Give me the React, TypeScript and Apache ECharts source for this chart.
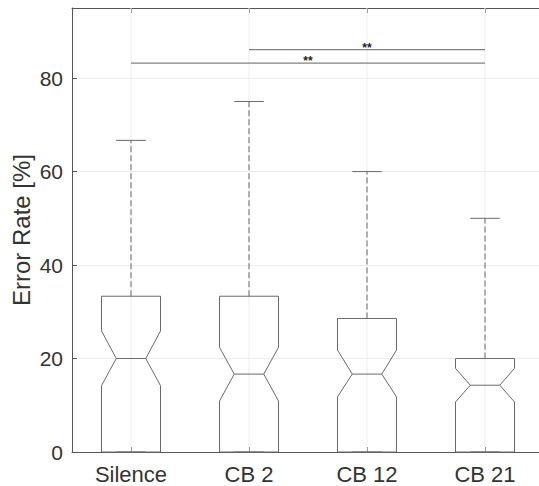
import React, { useEffect, useRef } from "react";
import * as echarts from "echarts";

const categories = ["Silence", "CB 2", "CB 12", "CB 21"];
const whiskerLow = [0, 0, 0, 0];
const q1 = [0, 0, 0, 0];
const notchLow = [14.2, 10.9, 11.8, 10.7];
const medians = [20, 16.67, 16.67, 14.29];
const notchHigh = [25.9, 22.4, 21.8, 17.9];
const q3 = [33.33, 33.33, 28.57, 20];
const whiskerHigh = [66.67, 75, 60, 50];

const sigFrom = [1, 0];
const sigTo = [3, 3];
const sigLevel = [86.1, 83.2];
const sigLabels = ["**", "**"];

const yTicks = [0, 20, 40, 60, 80];

const BOX = "#6a6a6a";
const GRID = "#ebebeb";
const AXIS = "#555555";
const TEXT = "#333333";

export default function App() {
  const ref = useRef<HTMLDivElement>(null);
  useEffect(() => {
    if (!ref.current) return;
    const chart = echarts.init(ref.current, null, { renderer: "svg" });
    const boxData = categories.map((_, i) => [
      i,
      whiskerLow[i],
      q1[i],
      notchLow[i],
      medians[i],
      notchHigh[i],
      q3[i],
      whiskerHigh[i],
    ]);
    const sigData = sigFrom.map((f, i) => [f, sigTo[i], sigLevel[i]]);

    const renderBox = (params: any, api: any) => {
      const idx = api.value(0);
      const band = api.size([1, 0])[0];
      const hw = band * 0.25;
      const nw = band * 0.125;
      const cw = band * 0.125;
      const cs = params.coordSys;
      const c = (v: number) => api.coord([idx, v]);
      const x = c(0)[0];
      const yWL = c(api.value(1))[1];
      const yQ1 = c(api.value(2))[1];
      const yNL = c(api.value(3))[1];
      const yMed = c(api.value(4))[1];
      const yNH = c(api.value(5))[1];
      const yQ3 = c(api.value(6))[1];
      const yWH = c(api.value(7))[1];
      const lineStyle = { stroke: BOX, lineWidth: 1, fill: "none" };
      return {
        type: "group",
        children: [
          {
            type: "line",
            shape: { x1: x, y1: cs.y, x2: x, y2: cs.y + cs.height },
            style: { stroke: GRID, lineWidth: 1 },
            z2: 0,
          },
          {
            type: "polygon",
            shape: {
              points: [
                [x - hw, yQ1],
                [x - hw, yNL],
                [x - nw, yMed],
                [x - hw, yNH],
                [x - hw, yQ3],
                [x + hw, yQ3],
                [x + hw, yNH],
                [x + nw, yMed],
                [x + hw, yNL],
                [x + hw, yQ1],
              ],
            },
            style: lineStyle,
            z2: 2,
          },
          {
            type: "line",
            shape: { x1: x - nw, y1: yMed, x2: x + nw, y2: yMed },
            style: { stroke: BOX, lineWidth: 1 },
            z2: 2,
          },
          {
            type: "line",
            shape: { x1: x, y1: yQ3, x2: x, y2: yWH },
            style: { stroke: BOX, lineWidth: 1, lineDash: [6, 3] },
            z2: 2,
          },
          {
            type: "line",
            shape: { x1: x - cw, y1: yWH, x2: x + cw, y2: yWH },
            style: { stroke: BOX, lineWidth: 1 },
            z2: 2,
          },
          {
            type: "line",
            shape: { x1: x, y1: yQ1, x2: x, y2: yWL },
            style: { stroke: BOX, lineWidth: 1, lineDash: [6, 3] },
            z2: 2,
          },
          {
            type: "line",
            shape: { x1: x - cw, y1: yWL, x2: x + cw, y2: yWL },
            style: { stroke: BOX, lineWidth: 1 },
            z2: 2,
          },
        ],
      };
    };

    const renderSig = (params: any, api: any) => {
      const p1 = api.coord([api.value(0), api.value(2)]);
      const p2 = api.coord([api.value(1), api.value(2)]);
      const label = sigLabels[params.dataIndex];
      return {
        type: "group",
        children: [
          {
            type: "line",
            shape: { x1: p1[0], y1: p1[1], x2: p2[0], y2: p2[1] },
            style: { stroke: "#808080", lineWidth: 1.2 },
          },
          {
            type: "text",
            x: (p1[0] + p2[0]) / 2,
            y: p1[1] - 2,
            style: {
              text: label,
              fill: "#222222",
              font: "bold 12px 'Liberation Sans', Arial, sans-serif",
              align: "center",
              verticalAlign: "middle",
            },
          },
        ],
      };
    };

    chart.setOption({
      animation: false,
      backgroundColor: "#ffffff",
      grid: {
        left: 72,
        top: 8,
        width: 472,
        height: 444,
        containLabel: false,
        outerBoundsMode: "none",
      },
      xAxis: [
        {
          type: "category",
          data: categories,
          boundaryGap: true,
          axisLine: { show: true, lineStyle: { color: AXIS, width: 1 } },
          axisTick: { show: true, inside: true, length: 5, alignWithLabel: true, lineStyle: { color: AXIS } },
          axisLabel: {
            color: TEXT,
            fontSize: 22,
            fontFamily: "'Liberation Sans', Arial, sans-serif",
            margin: 11,
          },
          splitLine: { show: false },
        },
        {
          type: "category",
          data: categories,
          position: "top",
          boundaryGap: true,
          axisLine: { show: true, lineStyle: { color: AXIS, width: 1 } },
          axisTick: { show: true, inside: true, length: 5, alignWithLabel: true, lineStyle: { color: AXIS } },
          axisLabel: { show: false },
          splitLine: { show: false },
        },
      ],
      yAxis: {
        type: "value",
        min: 0,
        max: 95,
        interval: 20,
        name: "Error Rate [%]",
        nameLocation: "middle",
        nameGap: 39,
        nameMoveOverlap: false,
        nameTextStyle: {
          color: TEXT,
          fontSize: 24,
          fontFamily: "'Liberation Sans', Arial, sans-serif",
        },
        axisLine: { show: true, lineStyle: { color: AXIS, width: 1 } },
        axisTick: { show: true, inside: true, length: 5, lineStyle: { color: AXIS } },
        axisLabel: {
          color: TEXT,
          fontSize: 21,
          fontFamily: "'Liberation Sans', Arial, sans-serif",
          margin: 9,
          formatter: (v: number) => (yTicks.indexOf(v) >= 0 ? String(v) : ""),
        },
        splitLine: { show: true, lineStyle: { color: GRID, width: 1 } },
      },
      series: [
        {
          type: "custom",
          xAxisIndex: 0,
          renderItem: renderBox,
          data: boxData,
          encode: { x: 0, y: [1, 2, 3, 4, 5, 6, 7] },
          silent: true,
          clip: false,
        },
        {
          type: "custom",
          xAxisIndex: 0,
          renderItem: renderSig,
          data: sigData,
          encode: { x: [0, 1], y: 2 },
          silent: true,
          clip: false,
        },
      ],
    });
    return () => chart.dispose();
  }, []);
  return (
    <div
      ref={ref}
      style={{ position: "absolute", left: 0, top: 0, width: 539, height: 486 }}
    />
  );
}
